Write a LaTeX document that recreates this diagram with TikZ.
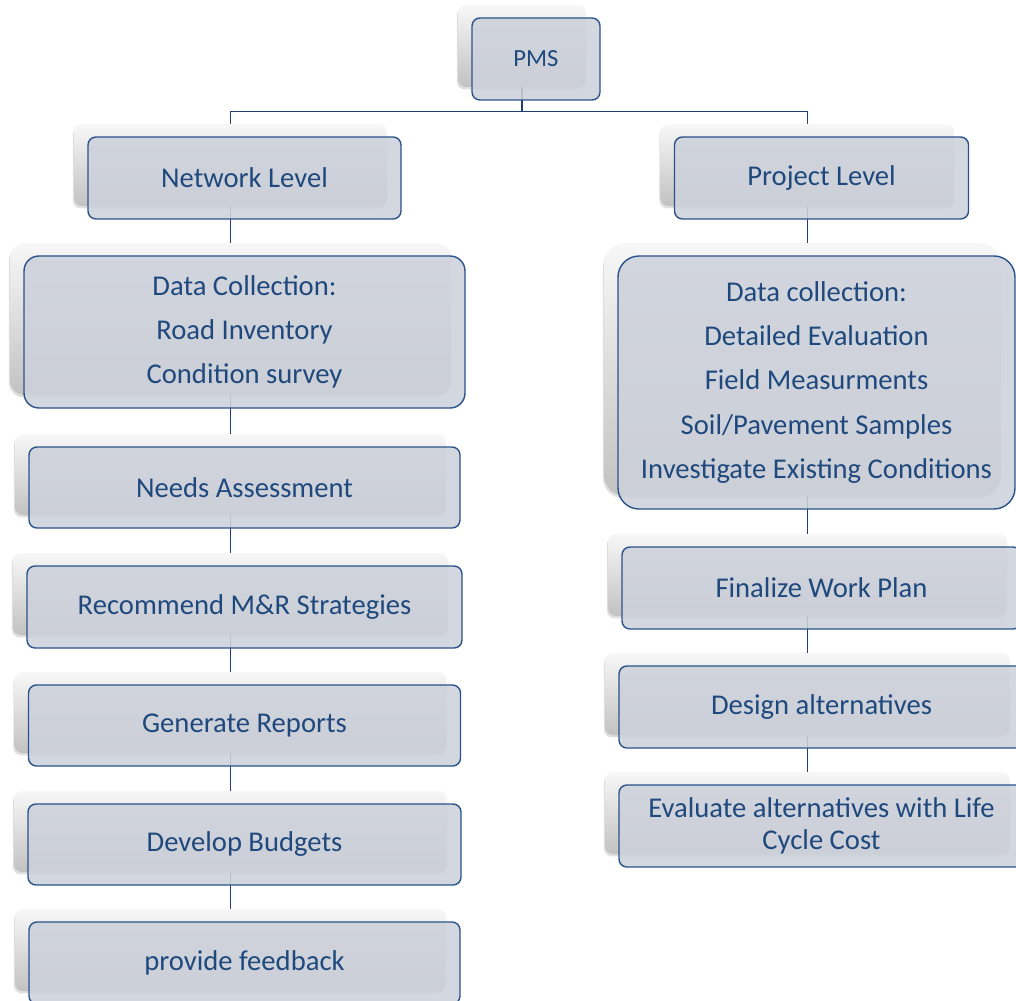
\documentclass[tikz,border=0pt]{standalone}
\usepackage{fontspec}
\setmainfont{Carlito}
\usetikzlibrary{shadows,backgrounds}
\definecolor{boxfill}{HTML}{CDD1DB}
\definecolor{boxline}{HTML}{2B5289}
\definecolor{boxtext}{HTML}{1F497D}
\definecolor{linkc}{HTML}{1F3F73}
\begin{document}
\begin{tikzpicture}[x=0.02cm,y=0.02cm,
  sz/.style 2 args={minimum width=#1*0.02cm,minimum height=#2*0.02cm},
  card/.style={rounded corners=4.5pt,inner sep=0pt,top color=black!3,middle color=black!5,bottom color=black!24,
    drop shadow={shadow xshift=-0.6pt,shadow yshift=-1.4pt,opacity=0.25}},
  box/.style={rounded corners=4.5pt,inner sep=0pt,draw=boxline,line width=0.8pt,fill=boxfill,fill opacity=0.88,
    text opacity=1,text=boxtext,align=center,font=\fontsize{16.3}{19.6}\selectfont},
  boxDC/.style={box,font=\fontsize{16.3}{25.2}\selectfont},
  link/.style={draw=linkc,line width=0.9pt}]
\def\ox{14};
\def\oy{-13};
\def\xl{230.5};
\def\xr{807.5};

\useasboundingbox (0,0) rectangle (1016,-1000);
\clip (0,0) rectangle (1016,-1000);

\node[card,sz={128}{82}] (pmsC) at (522,-46) {};
\node[box,sz={128}{82},font=\fontsize{14}{17}\selectfont] (pms) at ([shift={(\ox,\oy)}]pmsC) {PMS};

% network level
\node[card,sz={313}{82}] (netC) at (\xl,-165) {};
\node[box,sz={313}{82}] (net) at ([shift={(\ox,\oy)}]netC) {Network Level};
\node[card,sz={441}{152},rounded corners=8.5pt] (dclC) at (\xl,-319) {};
\node[boxDC,sz={441}{152},rounded corners=8.5pt] (dcl) at ([shift={(\ox,\oy)}]dclC) {Data Collection:\\Road Inventory\\Condition survey};
\node[card,sz={431}{81}] (needC) at (\xl,-474.5) {};
\node[box,sz={431}{81}] (need) at ([shift={(\ox,\oy)}]needC) {Needs Assessment};
\node[card,sz={435}{82}] (recC) at (\xl,-594) {};
\node[box,sz={435}{82}] (rec) at ([shift={(\ox,\oy)}]recC) {Recommend M\&R Strategies};
\node[card,sz={432}{81}] (genC) at (\xl,-712.5) {};
\node[box,sz={432}{81}] (gen) at ([shift={(\ox,\oy)}]genC) {Generate Reports};
\node[card,sz={433}{81}] (budC) at (\xl,-831.5) {};
\node[box,sz={433}{81}] (bud) at ([shift={(\ox,\oy)}]budC) {Develop Budgets};
\node[card,sz={431}{82}] (fbC) at (\xl,-950) {};
\node[box,sz={431}{82}] (fb) at ([shift={(\ox,\oy)}]fbC) {provide feedback};

% project level
\node[card,sz={294}{82}] (prjC) at (\xr,-165) {};
\node[box,sz={294}{82}] (prj) at ([shift={(\ox,\oy)}]prjC) {Project Level};
\node[card,sz={397}{253},rounded corners=12pt] (dcrC) at (802.5,-369.5) {};
\node[boxDC,sz={397}{253},rounded corners=12pt] (dcr) at ([shift={(\ox,\oy)}]dcrC) {Data collection:\\Detailed Evaluation\\Field Measurments\\Soil/Pavement Samples\\Investigate Existing Conditions};
\node[card,sz={399}{82}] (finC) at (\xr,-575) {};
\node[box,sz={399}{82}] (fin) at ([shift={(\ox,\oy)}]finC) {Finalize Work Plan};
\node[card,sz={405}{82}] (desC) at (\xr,-694) {};
\node[box,sz={405}{82}] (des) at ([shift={(\ox,\oy)}]desC) {Design alternatives};
\node[card,sz={405}{82}] (evaC) at (\xr,-813) {};
\node[box,sz={405}{82},font=\fontsize{16.3}{18.1}\selectfont] (eva) at ([shift={(\ox,\oy)}]evaC) {Evaluate alternatives with Life\\Cycle Cost};

\begin{scope}[on background layer]
\draw[link] (pmsC.south) -- ++(0,-24) coordinate (bar);
\draw[link] (netC.north) |- (bar) -| (prjC.north);
\draw[link] (netC.south) -- (dclC.north);
\draw[link] (dclC.south) -- (needC.north);
\draw[link] (needC.south) -- (recC.north);
\draw[link] (recC.south) -- (genC.north);
\draw[link] (genC.south) -- (budC.north);
\draw[link] (budC.south) -- (fbC.north);
\draw[link] (prjC.south) -- (prjC.south |- dcrC.north);
\draw[link] (finC.north |- dcrC.south) -- (finC.north);
\draw[link] (finC.south) -- (desC.north);
\draw[link] (desC.south) -- (evaC.north);
\end{scope}
\end{tikzpicture}
\end{document}
